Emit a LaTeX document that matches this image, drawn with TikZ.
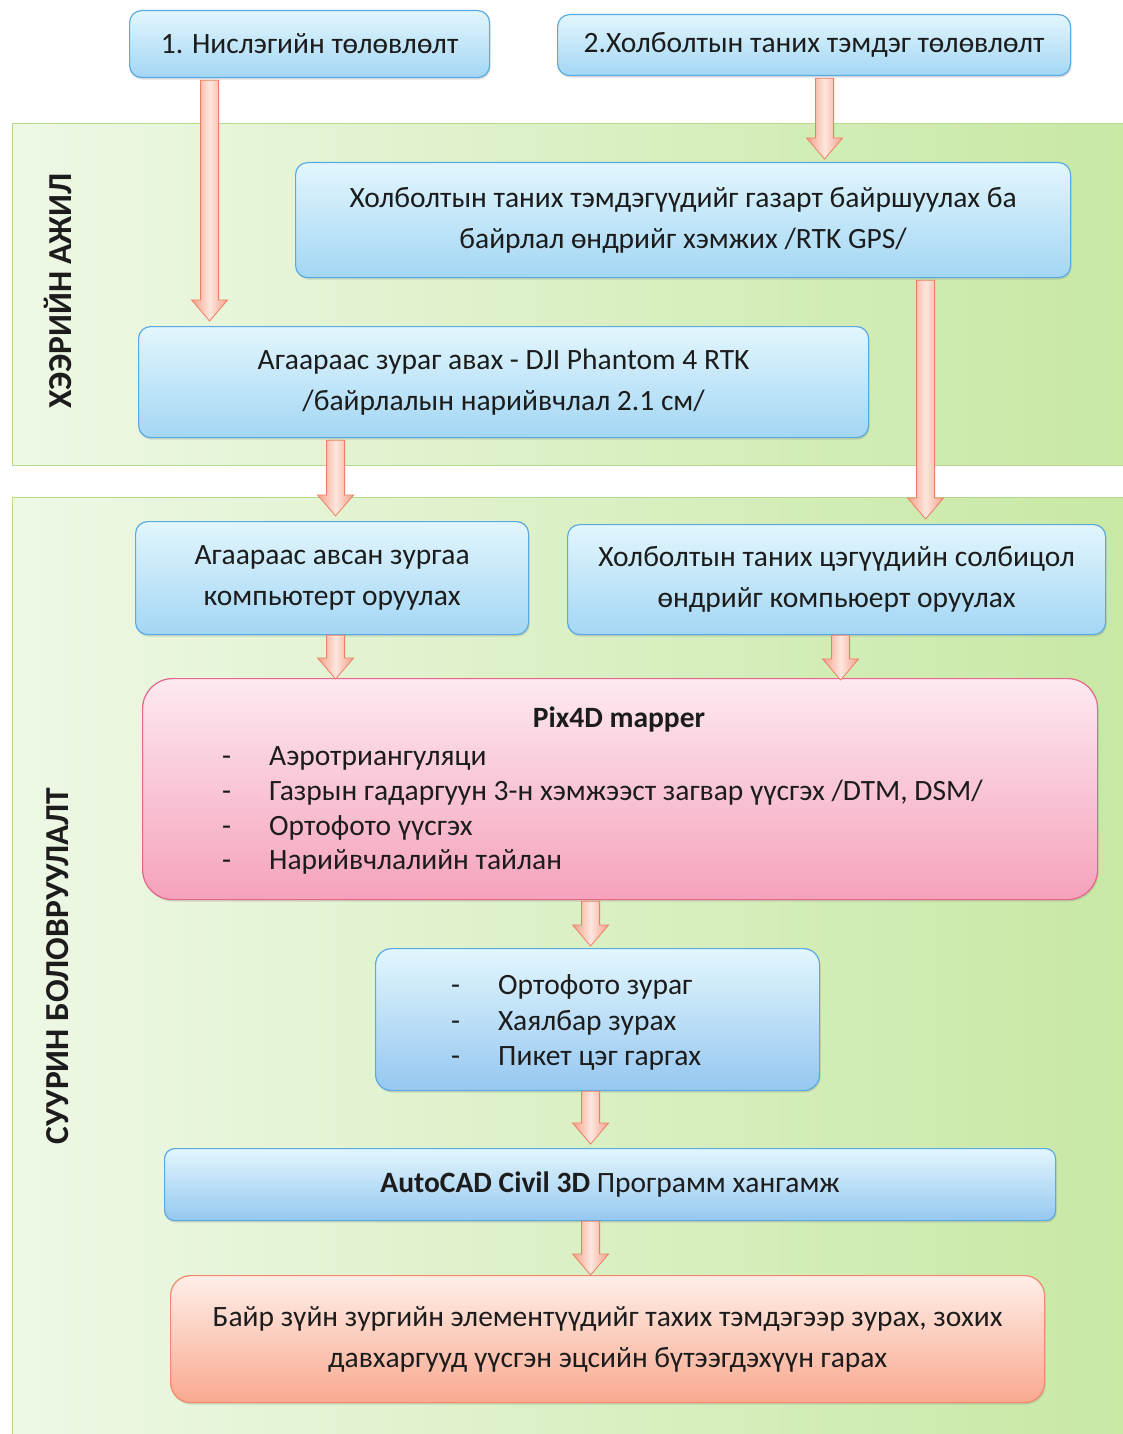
\documentclass[tikz,border=0pt]{standalone}
\usepackage{fontspec}
\setmainfont{Carlito}
\usetikzlibrary{calc,shadows}
\definecolor{blueTop}{HTML}{E2F6FD}
\definecolor{blueBot}{HTML}{A3D6F4}
\definecolor{blueBd}{HTML}{5AAAE2}
\definecolor{blue2Bot}{HTML}{95C7F0}
\definecolor{pinkTop}{HTML}{FDE9F1}
\definecolor{pinkBot}{HTML}{F5A2BB}
\definecolor{pinkBd}{HTML}{E2678A}
\definecolor{salTop}{HTML}{FEEEE8}
\definecolor{salBot}{HTML}{F9A98F}
\definecolor{salBd}{HTML}{F08A6A}
\definecolor{arrEdge}{HTML}{F5A088}
\definecolor{arrMid}{HTML}{FDE6DE}
\definecolor{arrBd}{HTML}{EF7F62}
\definecolor{grL}{HTML}{EEF8E6}
\definecolor{grR}{HTML}{C8E8A4}
\definecolor{grBd}{HTML}{B5DA8E}
\definecolor{txt}{HTML}{1C1C1C}
\tikzset{
  basebox/.style={line width=1.2pt, align=center, text=txt, inner sep=0pt,
    font=\fontsize{29.5}{41}\selectfont,
    drop shadow={shadow xshift=1pt, shadow yshift=-2pt, opacity=0.25}},
  bluebox/.style={basebox, draw=blueBd, rounded corners=12pt, top color=blueTop, bottom color=blueBot},
  bluebox2/.style={basebox, draw=blueBd, rounded corners=16pt, top color=blueTop, bottom color=blue2Bot},
  pinkbox/.style={basebox, draw=pinkBd, rounded corners=30pt, top color=pinkTop, bottom color=pinkBot},
  salbox/.style={basebox, draw=salBd, rounded corners=20pt, top color=salTop, bottom color=salBot},
  panel/.style={draw=grBd, line width=1pt, left color=grL, right color=grR, inner sep=0pt},
  paneltext/.style={rotate=90, font=\fontsize{33.5}{40}\selectfont\bfseries, text=txt},
  itemtext/.style={anchor=base west, font=\fontsize{29.5}{36}\selectfont, text=txt, inner sep=0pt},
  barrow/.style={draw=arrBd, line width=0.8pt, left color=arrEdge, right color=arrEdge, middle color=arrMid,
    to path={let \p1=(\tikztostart), \p2=(\tikztotarget) in
      ({\x1-9pt},\y1) -- ({\x1+9pt},\y1) -- ({\x1+9pt},{\y2+21pt}) -- ({\x1+18pt},{\y2+21pt})
      -- (\x1,\y2) -- ({\x1-18pt},{\y2+21pt}) -- ({\x1-9pt},{\y2+21pt}) -- cycle}}
}
\begin{document}
\begin{tikzpicture}[x=1pt,y=-1pt]
\useasboundingbox[fill=white] (0,0) rectangle (1123,1434);
% panels
\node[panel, anchor=north west, minimum width=1113pt, minimum height=342pt] (P1) at (12,123) {};
\node[panel, anchor=north west, minimum width=1113pt, minimum height=940pt] (P2) at (12,497) {};
\node[paneltext] (L1) at (58,291) {ХЭЭРИЙН АЖИЛ};
\node[paneltext] (L2) at (58,966) {СУУРИН БОЛОВРУУЛАЛТ};
% boxes
\node[bluebox, anchor=north west, minimum width=360pt, minimum height=67pt] (A) at (129,10) {1. Нислэгийн төлөвлөлт};
\node[bluebox, anchor=north west, minimum width=513pt, minimum height=61pt] (B) at (557,14) {2.Холболтын таних тэмдэг төлөвлөлт};
\node[bluebox, anchor=north west, minimum width=775pt, minimum height=115pt] (C) at (295,162) {Холболтын таних тэмдэгүүдийг газарт байршуулах ба\\байрлал өндрийг хэмжих /RTK GPS/};
\node[bluebox, anchor=north west, minimum width=730pt, minimum height=111pt] (D) at (138,326) {Агаараас зураг авах - DJI Phantom 4 RTK\\/байрлалын нарийвчлал 2.1 см/};
\node[bluebox, anchor=north west, minimum width=393pt, minimum height=113pt] (E) at (135,521) {Агаараас авсан зургаа\\компьютерт оруулах};
\node[bluebox, anchor=north west, minimum width=538pt, minimum height=110pt] (F) at (567,524) {Холболтын таних цэгүүдийн солбицол\\өндрийг компьюерт оруулах};
\node[pinkbox, anchor=north west, minimum width=955pt, minimum height=221pt] (G) at (142,678) {};
\node[bluebox2, anchor=north west, minimum width=444pt, minimum height=142pt] (H) at (375,948) {};
\node[bluebox2, rounded corners=10pt, anchor=north west, minimum width=891pt, minimum height=72pt] (I) at (164,1148) {\textbf{AutoCAD Civil 3D} Программ хангамж};
\node[salbox, anchor=north west, minimum width=874pt, minimum height=127pt] (J) at (170,1275) {Байр зүйн зургийн элементүүдийг тахих тэмдэгээр зурах, зохих\\давхаргууд үүсгэн эцсийн бүтээгдэхүүн гарах};
% Pix4D content
\node[anchor=base, font=\fontsize{29.5}{36}\selectfont\bfseries, text=txt, inner sep=0pt] (G0) at (619,727) {Pix4D mapper};
\node[itemtext] (Gd1) at (222,765) {-};
\node[itemtext] (Gt1) at (269,765) {Аэротриангуляци};
\node[itemtext] (Gd2) at (222,800) {-};
\node[itemtext] (Gt2) at (269,800) {Газрын гадаргуун 3-н хэмжээст загвар үүсгэх /DTM, DSM/};
\node[itemtext] (Gd3) at (222,835) {-};
\node[itemtext] (Gt3) at (269,835) {Ортофото үүсгэх};
\node[itemtext] (Gd4) at (222,869) {-};
\node[itemtext] (Gt4) at (269,869) {Нарийвчлалийн тайлан};
% H content
\node[itemtext] (Hd1) at (451,994) {-};
\node[itemtext] (Ht1) at (498,994) {Ортофото зураг};
\node[itemtext] (Hd2) at (451,1030) {-};
\node[itemtext] (Ht2) at (498,1030) {Хаялбар зурах};
\node[itemtext] (Hd3) at (451,1065) {-};
\node[itemtext] (Ht3) at (498,1065) {Пикет цэг гаргах};
% arrows
\path[barrow] ([xshift=-100pt,yshift=-2pt]A.south) to ([yshift=5pt]D.north);
\path[barrow] ([xshift=10.5pt,yshift=-2pt]B.south) to ([yshift=3pt]C.north);
\path[barrow] ([xshift=242.5pt,yshift=-2pt]C.south) to ([yshift=5pt]F.north);
\path[barrow] ([xshift=-168pt,yshift=-2pt]D.south) to ([yshift=5pt]E.north);
\path[barrow] ([xshift=3.5pt,yshift=0pt]E.south) to ([yshift=-1pt]G.north);
\path[barrow] ([xshift=4pt,yshift=0pt]F.south) to ([yshift=-2pt]G.north);
\path[barrow] ([xshift=-29.5pt,yshift=-1pt]G.south) to ([yshift=2pt]H.north);
\path[barrow] ([xshift=-7pt,yshift=0pt]H.south) to ([yshift=4pt]I.north);
\path[barrow] ([xshift=-19.5pt,yshift=0pt]I.south) to ([yshift=0pt]J.north);
\end{tikzpicture}
\end{document}
